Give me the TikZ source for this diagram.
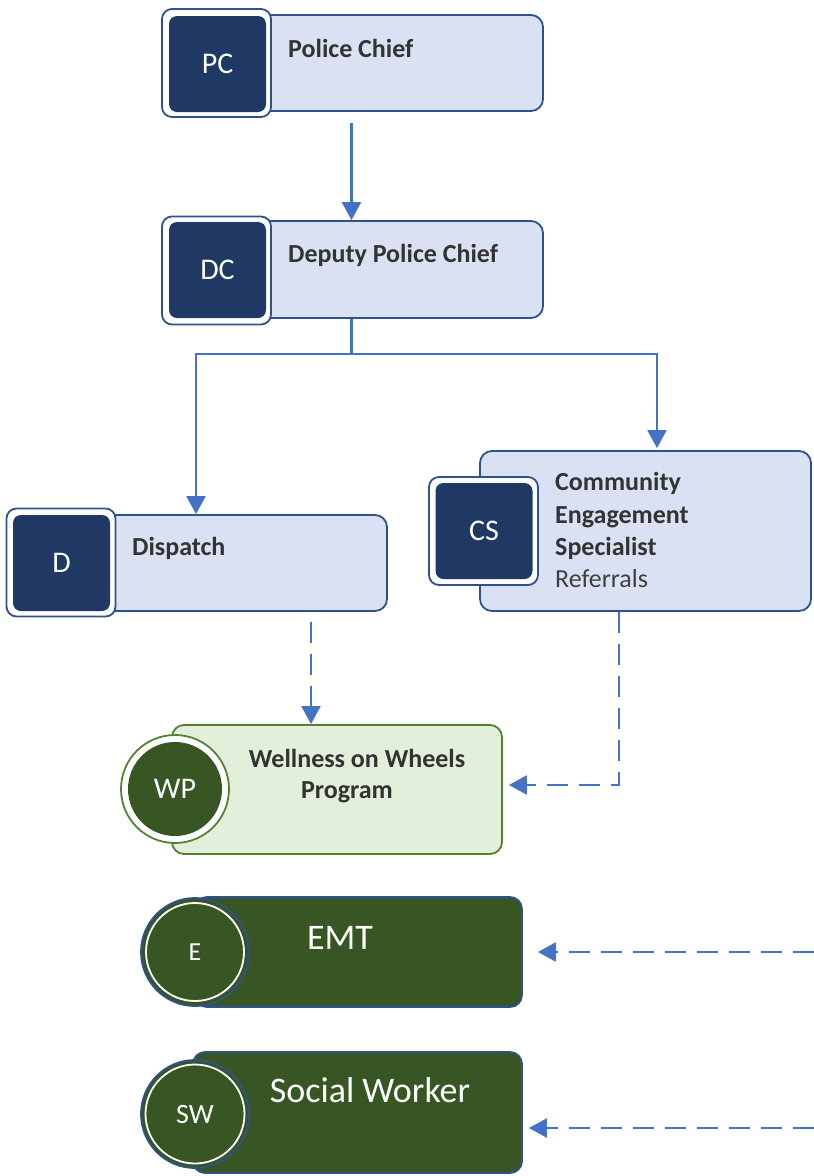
\documentclass[tikz,border=0pt]{standalone}
\usepackage{fontspec}
\setmainfont{Carlito}
\usetikzlibrary{arrows.meta,calc}

\definecolor{boxfill}{HTML}{DAE1F3}
\definecolor{boxline}{HTML}{2F528F}
\definecolor{navy}{HTML}{1F3864}
\definecolor{link}{HTML}{4472C4}
\definecolor{paleg}{HTML}{E2EFDA}
\definecolor{greenline}{HTML}{548235}
\definecolor{darkg}{HTML}{375623}
\definecolor{ink}{HTML}{333333}
\definecolor{softink}{HTML}{404040}

\begin{document}
\begin{tikzpicture}[x=1pt,y=-1pt,
  card/.style={draw=boxline, fill=boxfill, line width=1.8pt, rounded corners=12pt, inner sep=0pt},
  greencard/.style={draw=greenline, fill=paleg, line width=1.8pt, rounded corners=12pt, inner sep=0pt},
  darkcard/.style={draw=boxline, fill=darkg, line width=1.8pt, rounded corners=12pt, inner sep=0pt},
  frame/.style={draw=boxline, fill=white, line width=1.8pt, rounded corners=10pt, inner sep=0pt,
    minimum width=109pt, minimum height=108pt},
  badge/.style={fill=navy, rounded corners=8pt, inner sep=0pt, text=white,
    minimum width=97pt, minimum height=96pt, font=\fontsize{30}{35}\selectfont},
  cardtext/.style={inner sep=0pt, text=ink, font=\fontsize{26}{31}\bfseries\selectfont},
  plaintext/.style={inner sep=0pt, text=softink, font=\fontsize{26}{31}\selectfont},
  whitetext/.style={inner sep=0pt, text=white, font=\fontsize{36}{42}\selectfont},
  arr/.style={draw=link, line width=2.2pt, -{Triangle[length=18pt,width=19pt]}},
  darr/.style={arr, line width=2.4pt, dash pattern=on 21pt off 11pt}
]
\useasboundingbox (0,0) rectangle (814,1176);
\fill[white] (0,0) rectangle (814,1176);

% Police Chief
\node[card, minimum width=375pt, minimum height=96pt] (pc) at (355.5,63) {};
\node[frame] (pcframe) at (216.5,63) {};
\node[badge] (pcbadge) at (217.5,64) {PC};
\node[cardtext, anchor=base west] (pctext) at (288,57) {Police Chief};

% Deputy Police Chief
\node[card, minimum width=375pt, minimum height=97pt] (dc) at (355.5,269.5) {};
\node[frame] (dcframe) at (216.5,270.5) {};
\node[badge] (dcbadge) at (217.5,270) {DC};
\node[cardtext, anchor=base west] (dctext) at (288,262) {Deputy Police Chief};

% Dispatch
\node[card, minimum width=373pt, minimum height=96pt] (d) at (200.5,563) {};
\node[frame] (dframe) at (61,562.5) {};
\node[badge] (dbadge) at (61.5,563) {D};
\node[cardtext, anchor=base west] (dtext) at (132,555) {Dispatch};

% Community Engagement Specialist
\node[card, minimum width=331pt, minimum height=160pt] (cs) at (645.5,531) {};
\node[frame] (csframe) at (483.5,531) {};
\node[badge] (csbadge) at (484,531) {CS};
\node[cardtext, anchor=base west] (cs1) at (555,490) {Community};
\node[cardtext, anchor=base west] (cs2) at (555,523) {Engagement};
\node[cardtext, anchor=base west] (cs3) at (555,555) {Specialist};
\node[plaintext, anchor=base west] (cs4) at (555,587) {Referrals};

% Wellness on Wheels Program
\node[greencard, minimum width=330pt, minimum height=129pt] (wp) at (337,789.5) {};
\node[circle, draw=greenline, fill=white, line width=1.8pt, minimum size=108pt, inner sep=0pt] (wpring) at (175,789) {};
\node[circle, fill=darkg, minimum size=94pt, inner sep=0pt, text=white,
  font=\fontsize{30}{35}\selectfont] (wpbadge) at (175,789) {WP};
\node[cardtext, anchor=base] (wp1) at (357,767) {Wellness on Wheels};
\node[cardtext, anchor=base] (wp2) at (347,798) {Program};

% EMT
\node[darkcard, minimum width=327pt, minimum height=110pt] (emt) at (358.5,952) {};
\node[circle, draw=boxline, fill=darkg, line width=1.8pt, minimum size=108pt, inner sep=0pt] (emtring) at (195,952) {};
\node[circle, draw=white, line width=1.8pt, minimum size=98pt, inner sep=0pt, text=white,
  font=\fontsize{26}{30}\selectfont] (emtbadge) at (195,952) {E};
\node[whitetext, anchor=base] (emttext) at (340,949) {EMT};

% Social Worker
\node[darkcard, minimum width=329pt, minimum height=121pt] (sw) at (357.5,1112.5) {};
\node[circle, draw=boxline, fill=darkg, line width=1.8pt, minimum size=108pt, inner sep=0pt] (swring) at (195,1114) {};
\node[circle, draw=white, line width=1.8pt, minimum size=99pt, inner sep=0pt, text=white,
  font=\fontsize{28}{33}\selectfont] (swbadge) at (195,1114) {SW};
\node[whitetext, anchor=base] (swtext) at (370,1102) {Social Worker};

% reporting lines
\draw[arr] ([xshift=-4pt,yshift=-11pt]pc.south) -- ([xshift=-4pt]dc.north);
\coordinate (split) at ($(dc.south)+(-4,35)$);
\draw[arr] ([xshift=-4pt]dc.south) -- (split) -| ([xshift=-4.5pt]d.north);
\coordinate (cstop) at ([xshift=11.5pt,yshift=2pt]cs.north);
\draw[arr] (split) -| (cstop);

% referral lines
\coordinate (dout) at ([xshift=110.5pt,yshift=-10pt]d.south);
\draw[darr] (dout) -- (dout |- wp.north);
\coordinate (csout) at ([xshift=-26.5pt]cs.south);
\coordinate (wpin) at ([xshift=6pt,yshift=4.5pt]wp.east);
\draw[darr] (csout) |- (wpin);

\coordinate (emtsrc) at (814,952);
\coordinate (emttip) at ([xshift=15pt]emt.east);
\draw[darr] (emtsrc) -- (emttip);
\coordinate (swsrc) at (814,1128);
\coordinate (swtip) at ([xshift=6pt]sw.east);
\draw[darr] (swsrc) -- (swsrc -| swtip);
\end{tikzpicture}
\end{document}
